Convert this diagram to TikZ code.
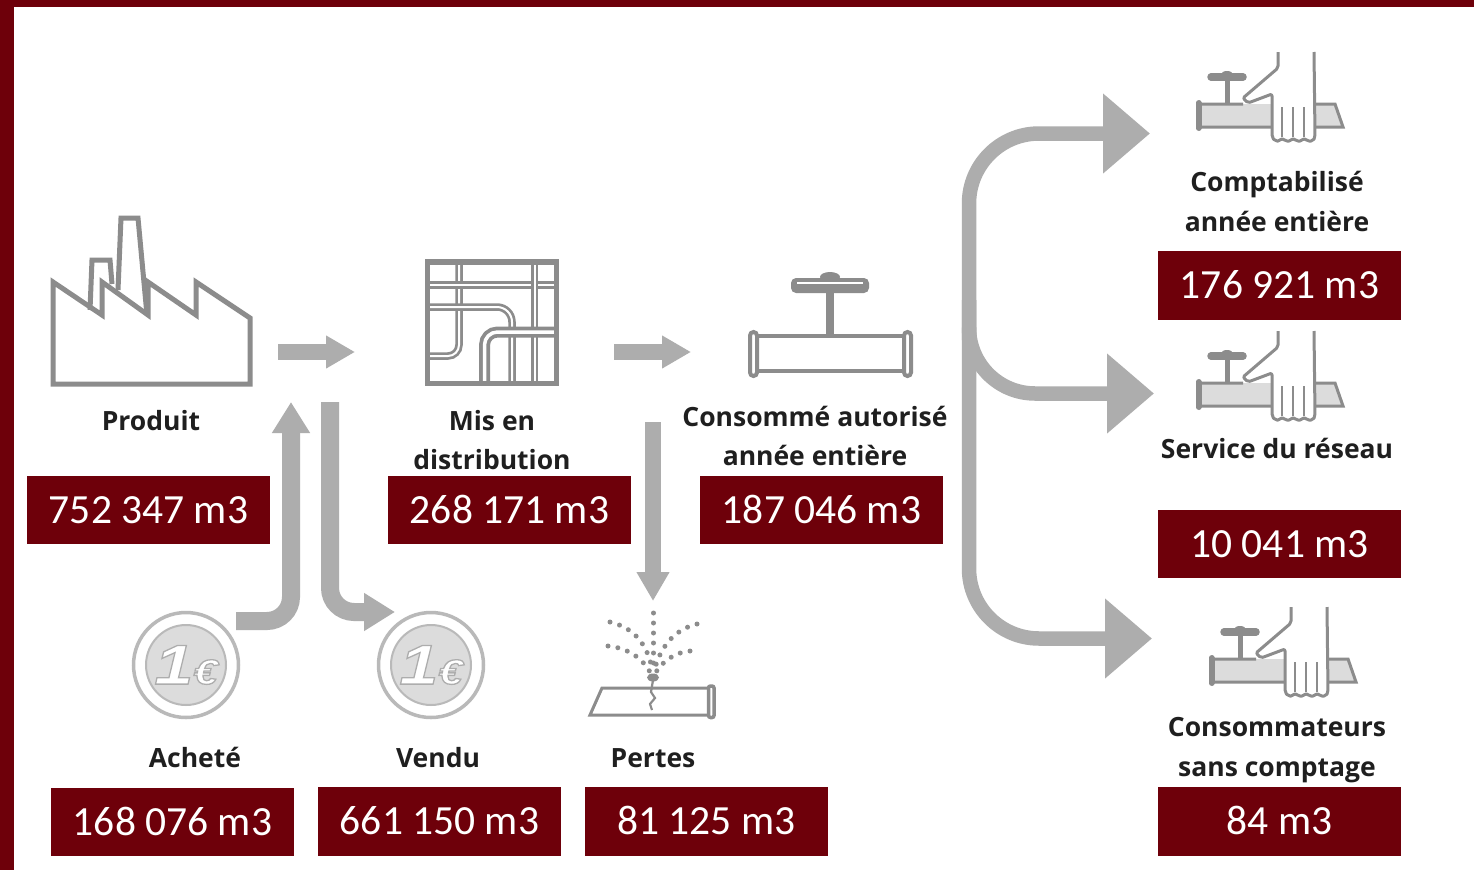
\documentclass[tikz,border=0pt]{standalone}
\usepackage{fontspec}
\setmainfont{Carlito}
\newfontfamily\lblfont{Open Sans}[BoldFont={Open Sans Bold}]
\newfontfamily\coinfont{Liberation Sans}[FakeStretch=1.25]
\usetikzlibrary{arrows.meta}
\definecolor{wine}{HTML}{6E000A}
\definecolor{flow}{HTML}{ADADAD}
\definecolor{icon}{HTML}{8C8C8C}
\definecolor{pipefill}{HTML}{DCDCDC}
\tikzset{
  valuebox/.style={fill=wine,text=white,minimum width=243pt,minimum height=68.5pt,inner sep=0pt,text height=26pt,text depth=0pt,font=\fontsize{41.5}{42}\selectfont},
  lbl/.style={align=center,text=black!88,inner sep=0pt,font=\lblfont\bfseries\fontsize{26.5}{39.5}\selectfont},
  flowA/.style={draw=flow,line width=16pt,-{Triangle[length=29pt,width=31pt]}},
  flowB/.style={draw=flow,line width=18pt,-{Triangle[length=31pt,width=36pt]}},
  flowC/.style={draw=flow,line width=14.5pt,-{Triangle[length=47pt,width=77pt]}},
  iconline/.style={draw=icon,line width=5pt,line join=miter},
  thinpipe/.style={draw=icon,line width=7.5pt,postaction={draw=white,line width=2pt}},
  widepipe/.style={draw=icon,line width=11pt,postaction={draw=white,line width=3.5pt}},
  sprayline/.style={draw=icon,line width=5pt,line cap=round,dash pattern=on 0pt off 10pt},
  coinrim/.style={draw=flow!85,line width=3.5pt,fill=white},
  coinface/.style={draw=flow!85,line width=2pt,fill=pipefill},
  pics/tapicon/.style={code={
    \fill[pipefill] (1200,104) rectangle (1272,127);
    \fill[pipefill] (1315,104) -- (1335,104) -- (1343,127) -- (1315,127) -- cycle;
    \draw[icon,line width=3pt] (1200,104) -- (1243,104) (1200,127) -- (1272,127) (1315,104) -- (1335,104) -- (1343,127) -- (1315,127);
    \draw[icon,line width=6pt,line cap=round] (1198.5,103) -- (1198.5,128);
    \draw[icon,line width=5pt] (1227,104) -- (1227,78);
    \draw[icon,line width=7.5pt,line cap=round] (1211,77) -- (1243,77);
    \fill[icon] (1227,74.5) ellipse (6pt and 3.5pt);
    \draw[icon,line width=3pt,line join=round,fill=white,rounded corners=2pt]
      (1278,52) -- (1278,68) -- (1243,98) -- (1248,103) -- (1272,94) -- (1272,137) -- (1275,141) -- (1280,141) -- (1282,138) -- (1285,141) -- (1291,141) -- (1293,138) -- (1296,141) -- (1302,141) -- (1304,138) -- (1307,141) -- (1313,141) -- (1315,137) -- (1314,52);
    \draw[icon,line width=2.8pt] (1282,107) -- (1282,137) (1293,107) -- (1293,137) (1304,107) -- (1304,137);
  }},
  pics/coinicon/.style={code={
    \draw[coinrim] (0,0) circle (52.5pt);
    \draw[coinface] (0,0) circle (40pt);
    \node[inner sep=0pt,font=\coinfont\bfseries\itshape] at (0,0)
      {\special{pdf:code 2 Tr 0.68 0.68 0.68 RG 1 1 1 rg 1.3 w}\fontsize{56}{56}\selectfont 1\fontsize{35}{35}\selectfont €\special{pdf:code 0 Tr 0 0 0 rg 0 0 0 RG}};
  }}
}
\begin{document}
\begin{tikzpicture}[x=1pt,y=-1pt]
\useasboundingbox (0,0) rectangle (1474,870);
\fill[white] (0,0) rectangle (1474,870);
\fill[wine] (0,0) rectangle (1474,6.5);
\fill[wine] (0,0) rectangle (14,870);

% factory
\draw[iconline] (90,310) -- (92,260) -- (110,260) -- (112,284);
\draw[iconline] (118,290) -- (121,218) -- (138,218) -- (147,315);
\draw[iconline] (53,282) -- (53,384) -- (250,384) -- (250,318) -- (196,282) -- (196,315) -- (148,282) -- (148,315) -- (102,282) -- (102,315) -- cycle;

% network
\draw[thinpipe] (459,261) -- (459,345) arc[start angle=0,end angle=90,radius=11] -- (427,356);
\draw[thinpipe] (427,285) -- (557,285);
\draw[thinpipe] (427,307) -- (497,307) arc[start angle=-90,end angle=0,radius=15] -- (512,384);
\draw[thinpipe] (534.5,261) -- (534.5,384);
\draw[widepipe] (484.5,384) -- (484.5,345) arc[start angle=180,end angle=270,radius=13] -- (557,332);
\draw[draw=icon,line width=5.5pt] (427.5,262) rectangle (556.5,383.5);

% valve
\draw[icon,line width=3.5pt] (755,336) -- (905,336) (755,371) -- (905,371);
\draw[icon,line width=7.5pt] (830,336) -- (830,288);
\fill[icon] (830,277) ellipse (10pt and 5pt);
\fill[icon,rounded corners=5pt] (791,278) rectangle (869,293);
\draw[white,line width=1.5pt] (797,283) -- (863,283);
\draw[icon,line width=4pt,fill=white,rounded corners=3.5pt] (750,332) rectangle (757,376);
\draw[icon,line width=4pt,fill=white,rounded corners=3.5pt] (904,332) rectangle (911,376);

% tap icons
\pic at (0,0) {tapicon};
\pic at (0,279) {tapicon};
\pic at (13,555) {tapicon};

% coins
\pic at (186,665) {coinicon};
\pic at (431,665) {coinicon};

% leak
\draw[icon,line width=3pt] (711,688) -- (602,688) -- (590,715) -- (711,715);
\draw[icon,line width=3.5pt,fill=white,rounded corners=2pt] (708.5,686) rectangle (714,717.5);
\draw[icon,line width=2.2pt] (653,680) -- (651,692) -- (655,698) -- (650,704) -- (652,710);
\draw[sprayline] (653.5,613) -- (653.5,666);
\draw[sprayline] (610,622) .. controls (635,628) and (647,645) .. (652,668);
\draw[sprayline] (697,624) .. controls (672,630) and (660,650) .. (655,668);
\draw[sprayline] (608,646) .. controls (628,648) and (642,658) .. (650,672);
\draw[sprayline] (690,651) .. controls (675,652) and (662,662) .. (656,672);
\fill[icon] (653,677.5) ellipse (6pt and 4pt);

% value boxes
\node[valuebox] (vProduit) at (148.5,510) {752 347 m3};
\node[valuebox] (vDistrib) at (509.5,510) {268 171 m3};
\node[valuebox] (vConso) at (821.5,510) {187 046 m3};
\node[valuebox] (vAchete) at (172.5,822) {168 076 m3};
\node[valuebox] (vVendu) at (439.5,821.5) {661 150 m3};
\node[valuebox] (vPertes) at (706.5,821.5) {81 125 m3};
\node[valuebox] (vCompta) at (1279.5,285.5) {176 921 m3};
\node[valuebox] (vService) at (1279.5,544) {10 041 m3};
\node[valuebox] (vSans) at (1279.5,821.5) {84 m3};

% labels
\node[lbl] (lProduit) at (151,421) {Produit};
\node[lbl] (lDistrib) at (492,440) {Mis en\\distribution};
\node[lbl] (lConso) at (815,436) {Consommé autorisé\\année entière};
\node[lbl] (lAchete) at (195,757) {Acheté};
\node[lbl] (lVendu) at (438,758) {Vendu};
\node[lbl] (lPertes) at (653,758) {Pertes};
\node[lbl] (lCompta) at (1277,201.5) {Comptabilisé\\année entière};
\node[lbl] (lService) at (1277,448) {Service du réseau};
\node[lbl] (lSans) at (1277,750) {Consommateurs\\sans comptage};

% connector ends
\coordinate (fa1) at (278,352); \coordinate (ta1) at (355,352);
\coordinate (fa2) at (614,352); \coordinate (ta2) at (691,352);
\coordinate (buyS) at (236,621); \coordinate (buyT) at (291,402);
\coordinate (sellS) at (330,402); \coordinate (sellT) at (395,612);
\coordinate (lossS) at (653,422); \coordinate (lossT) at (653,601);
\coordinate (trunkA) at (969,340); \coordinate (trunkB) at (969,330); \coordinate (trunkC) at (969,300);
\coordinate (tA) at (1150,133.5); \coordinate (tB) at (1154,393.5); \coordinate (tC) at (1152,638.5);

\draw[flowA] (fa1) -- (ta1);
\draw[flowA] (fa2) -- (ta2);
\draw[flowB,rounded corners=24pt] (buyS) -| (buyT);
\draw[flowB,rounded corners=24pt] (sellS) |- (sellT);
\draw[flowA] (lossS) -- (lossT);
\draw[flowC,rounded corners=70pt] (trunkA) |- (tA);
\draw[flowC,rounded corners=66pt] (trunkB) |- (tB);
\draw[flowC,rounded corners=70pt] (trunkC) |- (tC);
\end{tikzpicture}
\end{document}
